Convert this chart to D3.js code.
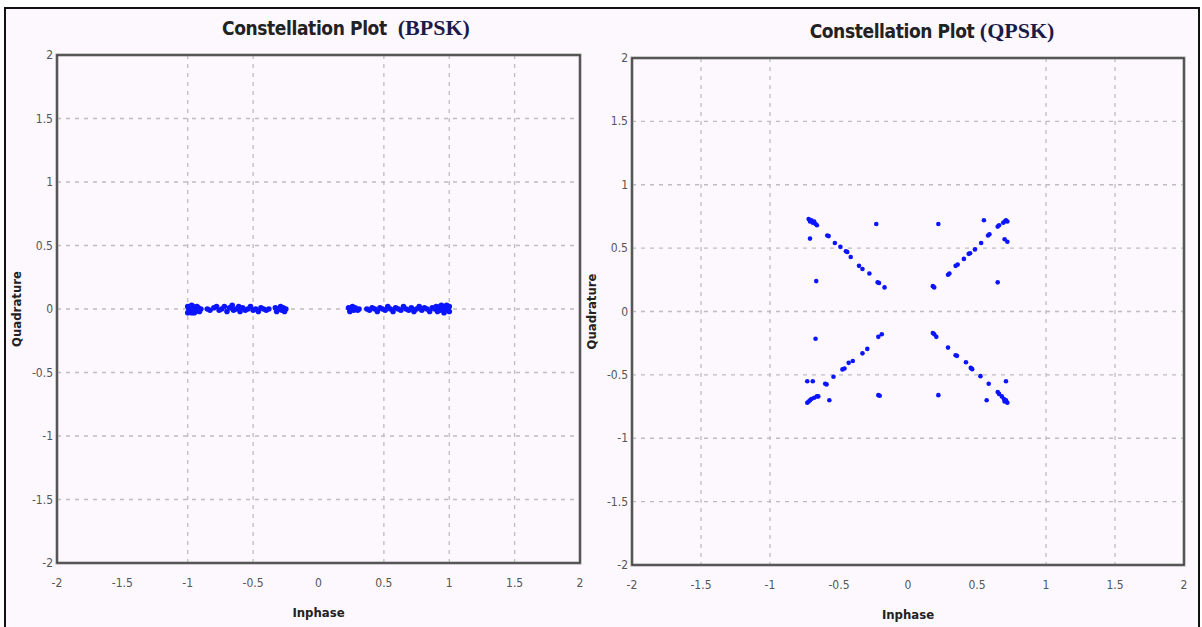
<!DOCTYPE html>
<html>
<head>
<meta charset="utf-8">
<script src="https://cdn.jsdelivr.net/npm/d3@7"></script>
<style>
  body { margin: 0; background: #fff; }
  .tick-label { font-family: "DejaVu Sans Condensed", "DejaVu Sans", sans-serif; font-stretch: condensed; font-size: 12px; fill: #555; }
  .axis-label { font-family: "DejaVu Sans Condensed", "DejaVu Sans", sans-serif; font-stretch: condensed; font-weight: bold; font-size: 13px; fill: #222; }
  .title-a { font-family: "DejaVu Sans Condensed", "DejaVu Sans", sans-serif; font-stretch: condensed; font-weight: bold; font-size: 19px; letter-spacing: -0.4px; fill: #222; }
  .title-b { font-family: "Liberation Serif", serif; font-weight: bold; font-size: 22px; fill: #1b1b4a; }
</style>
</head>
<body>
<div id="chart"></div>
<script>
// tick values shared by both plots
var ticks = [-2, -1.5, -1, -0.5, 0, 0.5, 1, 1.5, 2];
var gridY = [-1.5, -1, -0.5, 0, 0.5, 1, 1.5];
var bpskGridX = [-1, -0.5, 0.5, 1, 1.5];
var qpskGridX = [-1.5, -1, 1, 1.5];

// BPSK received symbols [inphase, quadrature]
var bpskPoints = [
  [-1.00,0.02],[-0.99,-0.02],[-0.98,0.01],[-0.99,0.00],[-0.97,-0.03],[-0.96,0.02],[-0.98,-0.01],
  [-0.95,0.00],[-0.94,-0.02],[-0.93,0.02],[-0.92,0.01],[-0.91,-0.02],[-0.90,0.00],[-1.00,-0.03],
  [-0.97,0.03],[-0.95,-0.03],[-0.92,-0.01],
  [-0.85,0.00],[-0.83,-0.01],[-0.80,0.01],[-0.78,0.02],[-0.76,-0.01],[-0.74,0.00],[-0.72,0.02],
  [-0.70,-0.02],[-0.68,0.01],[-0.66,0.03],[-0.65,-0.01],[-0.63,0.00],[-0.61,0.02],[-0.60,-0.02],
  [-0.58,0.01],[-0.56,-0.01],[-0.54,0.00],[-0.52,0.02],[-0.50,-0.01],[-0.48,0.00],[-0.46,-0.02],
  [-0.44,0.01],[-0.42,0.00],[-0.40,-0.01],[-0.38,0.00],
  [-0.33,0.01],[-0.32,-0.02],[-0.30,0.00],[-0.29,0.02],[-0.28,-0.01],[-0.27,0.01],[-0.26,-0.02],[-0.25,0.00],
  [0.23,0.01],[0.24,-0.02],[0.25,0.00],[0.26,0.02],[0.27,-0.01],[0.28,0.01],[0.30,-0.01],[0.31,0.00],
  [0.37,0.00],[0.39,-0.01],[0.41,0.01],[0.43,0.00],[0.45,-0.02],[0.47,0.01],[0.49,0.00],[0.51,-0.01],
  [0.53,0.02],[0.55,0.00],[0.57,-0.02],[0.59,0.01],[0.61,0.00],[0.63,-0.01],[0.65,0.02],[0.67,0.00],
  [0.69,-0.01],[0.71,0.01],[0.73,-0.02],[0.75,0.00],[0.77,0.02],[0.79,-0.01],[0.81,0.01],[0.83,0.00],
  [0.85,-0.02],[0.87,0.01],
  [0.89,0.00],[0.90,0.02],[0.91,-0.02],[0.92,0.01],[0.93,-0.01],[0.94,0.03],[0.95,0.00],[0.96,-0.03],
  [0.97,0.02],[0.98,-0.01],[0.99,0.01],[1.00,-0.02],[1.00,0.02],[0.98,0.03],[0.96,0.01],[0.93,0.02]
];

// QPSK received symbols [inphase, quadrature]
var qpskPoints = [
  // upper left
  [-0.72,0.73],[-0.70,0.72],[-0.69,0.70],[-0.68,0.71],[-0.67,0.69],[-0.66,0.68],[-0.71,0.71],
  [-0.71,0.575],[-0.585,0.60],[-0.575,0.595],[-0.53,0.54],[-0.49,0.51],[-0.45,0.475],[-0.44,0.47],
  [-0.415,0.43],[-0.355,0.36],[-0.33,0.335],[-0.28,0.30],[-0.22,0.23],[-0.21,0.225],[-0.17,0.19],
  [-0.665,0.24],[-0.23,0.69],
  // upper right
  [0.70,0.71],[0.71,0.72],[0.69,0.70],[0.72,0.71],[0.65,0.67],[0.66,0.68],[0.55,0.72],[0.22,0.69],
  [0.70,0.57],[0.72,0.55],[0.58,0.60],[0.59,0.61],[0.53,0.54],[0.485,0.49],[0.44,0.455],[0.45,0.46],
  [0.405,0.415],[0.345,0.36],[0.36,0.37],[0.29,0.29],[0.30,0.30],[0.18,0.20],[0.19,0.19],[0.65,0.23],
  // lower left
  [-0.73,-0.72],[-0.71,-0.70],[-0.70,-0.69],[-0.72,-0.71],[-0.68,-0.68],[-0.66,-0.67],[-0.65,-0.67],
  [-0.73,-0.55],[-0.69,-0.55],[-0.67,-0.215],[-0.60,-0.57],[-0.59,-0.575],[-0.54,-0.515],[-0.475,-0.457],
  [-0.46,-0.45],[-0.43,-0.405],[-0.40,-0.39],[-0.33,-0.33],[-0.295,-0.295],[-0.215,-0.20],[-0.19,-0.18],
  [-0.57,-0.70],[-0.215,-0.66],[-0.205,-0.665],
  // lower right
  [0.18,-0.17],[0.19,-0.18],[0.205,-0.20],[0.29,-0.285],[0.345,-0.345],[0.355,-0.35],[0.42,-0.40],
  [0.455,-0.445],[0.465,-0.455],[0.525,-0.51],[0.585,-0.57],[0.65,-0.635],[0.66,-0.65],[0.68,-0.67],
  [0.695,-0.69],[0.71,-0.70],[0.72,-0.72],[0.70,-0.71],[0.71,-0.55],[0.57,-0.70],[0.22,-0.66]
];

var svg = d3.select("#chart").append("svg")
  .attr("width", 1202)
  .attr("height", 627);

// page background + outer frame
svg.append("rect").attr("x", 5).attr("y", 8).attr("width", 1194).attr("height", 625)
  .attr("fill", "#fdf8fd").attr("stroke", "#111").attr("stroke-width", 2);

function drawPanel(opt) {
  var x = d3.scaleLinear().domain([-2, 2]).range([opt.left, opt.right]);
  var y = d3.scaleLinear().domain([-2, 2]).range([opt.bottom, opt.top]);
  var g = svg.append("g");

  // grid
  g.selectAll(".gx").data(opt.gridX).join("line")
    .attr("x1", d => x(d)).attr("x2", d => x(d))
    .attr("y1", opt.top).attr("y2", opt.bottom)
    .attr("stroke", "#bdbdbd").attr("stroke-width", 1.3).attr("stroke-dasharray", "4,5");
  g.selectAll(".gy").data(gridY).join("line")
    .attr("x1", opt.left).attr("x2", opt.right)
    .attr("y1", d => y(d)).attr("y2", d => y(d))
    .attr("stroke", "#bdbdbd").attr("stroke-width", 1.3).attr("stroke-dasharray", "4,5");

  // points
  g.selectAll(".pt").data(opt.points).join("circle")
    .attr("cx", d => x(d[0]))
    .attr("cy", d => y(d[1]))
    .attr("r", opt.r)
    .attr("fill", "#0a14ff");

  // box
  g.append("rect")
    .attr("x", opt.left).attr("y", opt.top)
    .attr("width", opt.right - opt.left).attr("height", opt.bottom - opt.top)
    .attr("fill", "none").attr("stroke", "#9a9a9a").attr("stroke-width", 3);
  g.append("rect")
    .attr("x", opt.left).attr("y", opt.top)
    .attr("width", opt.right - opt.left).attr("height", opt.bottom - opt.top)
    .attr("fill", "none").attr("stroke", "#333").attr("stroke-width", 1.3);

  // tick labels
  g.selectAll(".tx").data(ticks).join("text")
    .attr("class", "tick-label")
    .attr("x", d => x(d)).attr("y", opt.bottom + 24)
    .attr("text-anchor", "middle")
    .text(d => d);
  g.selectAll(".ty").data(ticks).join("text")
    .attr("class", "tick-label")
    .attr("x", opt.left - 4).attr("y", d => y(d) + 4)
    .attr("text-anchor", "end")
    .text(d => d);

  // axis labels
  g.append("text").attr("class", "axis-label")
    .attr("x", (opt.left + opt.right) / 2).attr("y", opt.bottom + 54)
    .attr("text-anchor", "middle").text("Inphase");
  g.append("text").attr("class", "axis-label")
    .attr("transform", `translate(${opt.left - 36},${y(0)}) rotate(-90)`)
    .attr("text-anchor", "middle").text("Quadrature");

  // title
  var t = g.append("text")
    .attr("x", opt.titleX).attr("y", opt.top - 20)
    .attr("text-anchor", "middle");
  t.append("tspan").attr("class", "title-a").text(opt.titleA);
  t.append("tspan").attr("class", "title-b").text(opt.titleB);
}

drawPanel({
  left: 57, right: 580, top: 55, bottom: 563,
  gridX: bpskGridX, points: bpskPoints, r: 2.8,
  titleX: 346, titleA: "Constellation Plot\u00a0\u00a0", titleB: "(BPSK)"
});

drawPanel({
  left: 632, right: 1184, top: 58, bottom: 565,
  gridX: qpskGridX, points: qpskPoints, r: 2.3,
  titleX: 932, titleA: "Constellation Plot\u00a0", titleB: "(QPSK)"
});
</script>
</body>
</html>
